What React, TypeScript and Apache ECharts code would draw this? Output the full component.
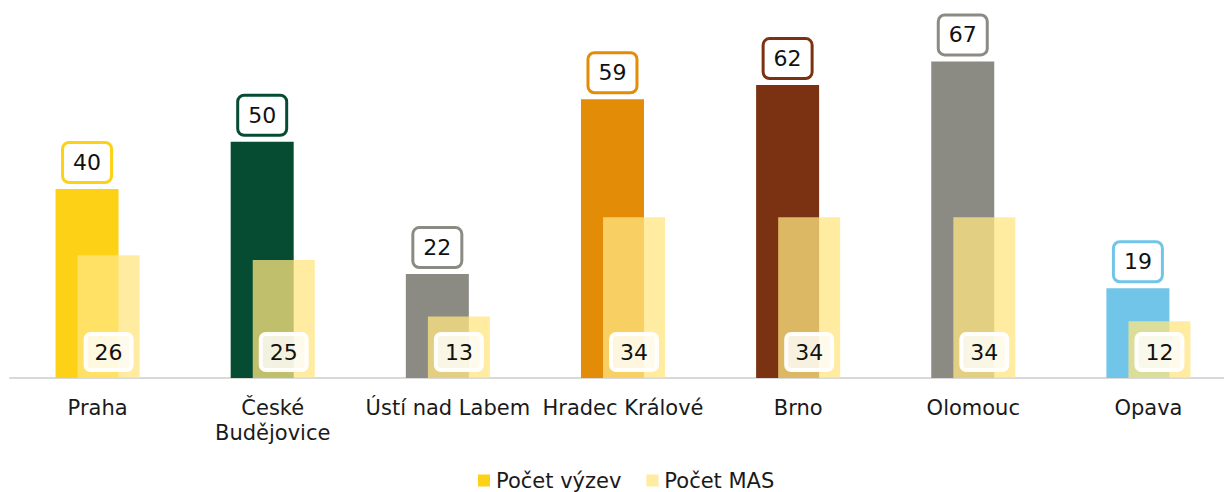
import React, { useEffect, useRef } from "react";
import * as echarts from "echarts";

const categories = ["Praha", "České\nBudějovice", "Ústí nad Labem", "Hradec Králové", "Brno", "Olomouc", "Opava"];
const pocetVyzev = [40, 50, 22, 59, 62, 67, 19];
const pocetMAS = [26, 25, 13, 34, 34, 34, 12];
const barColors = ["#FCD116", "#064C32", "#8B8A83", "#E38C08", "#7A3213", "#8B8A83", "#71C5E8"];
const seriesNames = ["Počet výzev", "Počet MAS"];

const FONT = "'DejaVu Sans', Verdana, sans-serif";

export default function App() {
  const ref = useRef<HTMLDivElement>(null);
  useEffect(() => {
    if (!ref.current) return;
    const chart = echarts.init(ref.current, undefined, { renderer: "svg" });
    chart.setOption({
      animation: false,
      textStyle: { fontFamily: FONT },
      grid: { left: 10, right: 0, top: 0, height: 378, containLabel: false },
      legend: {
        left: 478,
        top: 470,
        padding: 0,
        itemWidth: 12,
        itemHeight: 12,
        itemGap: 25,
        icon: "rect",
        textStyle: { fontFamily: FONT, fontSize: 21, lineHeight: 20, color: "#1a1a1a", padding: [0, 0, 0, 1] },
        data: seriesNames,
      },
      xAxis: {
        type: "category",
        data: categories,
        axisLine: { show: true, lineStyle: { color: "#D9D9D9", width: 2 } },
        axisTick: { show: false },
        axisLabel: {
          interval: 0,
          margin: 17,
          fontFamily: FONT,
          fontSize: 21,
          lineHeight: 25,
          color: "#1a1a1a",
        },
      },
      yAxis: { type: "value", min: 0, max: 80, show: false, splitLine: { show: false } },
      series: [
        {
          name: seriesNames[0],
          type: "bar",
          barWidth: 63,
          barGap: "-65%",
          itemStyle: { color: barColors[0] },
          data: pocetVyzev.map((v, i) => ({
            value: v,
            itemStyle: { color: barColors[i] },
            label: { borderColor: barColors[i] },
          })),
          label: {
            show: true,
            position: "top",
            distance: 8,
            fontFamily: FONT,
            fontSize: 22,
            lineHeight: 23,
            color: "#111",
            backgroundColor: "#fff",
            borderWidth: 3,
            borderRadius: 5,
            padding: [7, 9, 7, 9],
          },
        },
        {
          name: seriesNames[1],
          type: "bar",
          barWidth: 62,
          z: 3,
          itemStyle: { color: "rgba(255,230,128,0.75)" },
          data: pocetMAS,
          label: {
            show: true,
            position: "insideBottom",
            distance: 8,
            fontFamily: FONT,
            fontSize: 22,
            lineHeight: 22,
            color: "#111",
            backgroundColor: "rgba(255,255,255,0.8)",
            borderColor: "rgba(255,255,255,0.95)",
            borderWidth: 2,
            borderRadius: 5,
            padding: [7, 9, 7, 9],
          },
        },
      ],
    });
    return () => chart.dispose();
  }, []);
  return (
    <div
      style={{ position: "absolute", left: 0, top: 0, width: 1224, height: 492, overflow: "hidden", background: "#fff" }}
    >
      <div ref={ref} style={{ width: 1236, height: 492 }} />
    </div>
  );
}
